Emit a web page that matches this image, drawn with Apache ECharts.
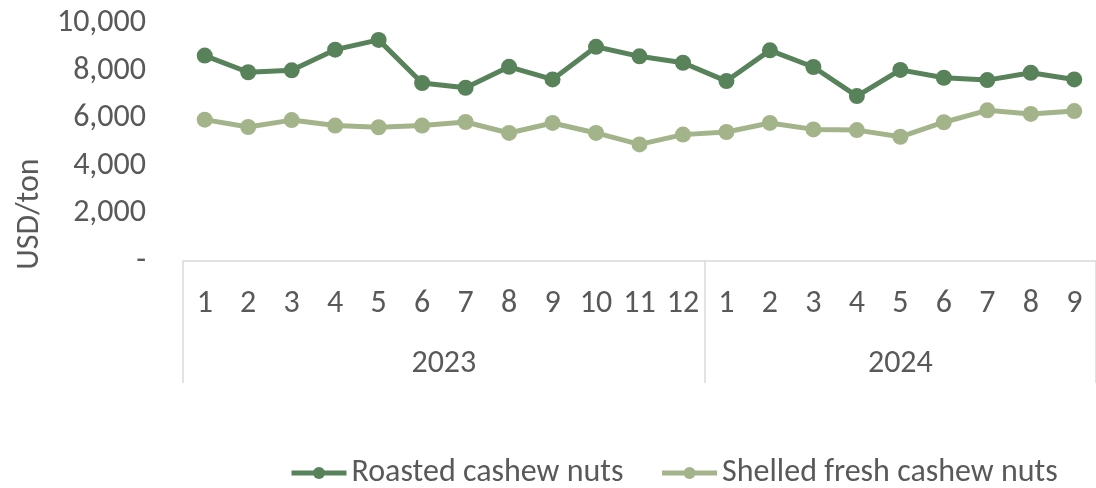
<!DOCTYPE html>
<html>
<head>
<meta charset="utf-8">
<script src="https://cdn.jsdelivr.net/npm/echarts@6/dist/echarts.min.js"></script>
<style>
html,body{margin:0;padding:0;background:#fff;}
#chart{width:1096px;height:488px;}
</style>
</head>
<body>
<div id="chart"></div>
<script>
const months = ['1','2','3','4','5','6','7','8','9','10','11','12','1','2','3','4','5','6','7','8','9'];
const years = ['2023', '2024'];
const yearStarts = [0, 12, 21];
const roasted = [8630, 7930, 8010, 8880, 9290, 7480, 7280, 8160, 7630, 9000, 8600, 8330, 7560, 8850, 8150, 6930, 8030, 7700, 7600, 7910, 7630];
const shelled = [5940, 5630, 5920, 5690, 5620, 5690, 5840, 5380, 5800, 5380, 4900, 5310, 5420, 5800, 5530, 5500, 5220, 5830, 6330, 6180, 6300];
const yTicks = [0, 2000, 4000, 6000, 8000, 10000];

const FONT = "Carlito, Calibri, 'Noto Sans', sans-serif";
const FS = 32;
const TXT = '#595959';
const yearCenters = years.map((y, i) => (yearStarts[i] + yearStarts[i + 1]) / 2);

const chart = echarts.init(document.getElementById('chart'));
chart.setOption({
  animation: false,
  textStyle: { fontFamily: FONT },
  grid: { left: 183, top: 23, width: 917, height: 238, containLabel: false },
  legend: {
    left: 289, top: 457, padding: 0,
    itemWidth: 55, itemHeight: 15, itemGap: 36,
    lineStyle: { width: 5 },
    textStyle: { fontFamily: FONT, fontSize: FS, color: TXT },
    data: ['Roasted cashew nuts', 'Shelled fresh cashew nuts']
  },
  xAxis: [
    {
      type: 'category', data: months, boundaryGap: true, position: 'bottom',
      axisLine: { show: true, lineStyle: { color: '#d9d9d9', width: 1.5 } },
      axisTick: { show: false },
      axisLabel: { interval: 0, margin: 27, fontSize: FS, color: TXT, fontFamily: FONT }
    },
    {
      type: 'value', min: 0, max: 21, position: 'bottom',
      axisLine: { show: false },
      splitLine: { show: false },
      axisTick: { show: true, customValues: yearStarts, length: 122, lineStyle: { color: '#d9d9d9', width: 1.5 } },
      axisLabel: {
        customValues: yearCenters, margin: 87, fontSize: FS, color: TXT, fontFamily: FONT,
        formatter: v => years[yearCenters.indexOf(v)]
      }
    }
  ],
  yAxis: {
    type: 'value', min: 0, max: 10000, interval: 2000,
    name: 'USD/ton', nameLocation: 'middle', nameGap: 132, nameRotate: 90,
    nameTextStyle: { fontSize: FS, color: TXT, fontFamily: FONT, padding: [0, 144, 0, 0] },
    axisLine: { show: false }, axisTick: { show: false },
    splitLine: { show: false },
    axisLabel: {
      margin: 37, fontSize: FS, color: TXT, fontFamily: FONT,
      formatter: v => v === 0 ? '-' : v.toLocaleString('en-US')
    }
  },
  series: [
    {
      name: 'Roasted cashew nuts', type: 'line', data: roasted, xAxisIndex: 0,
      symbol: 'circle', symbolSize: 16,
      lineStyle: { color: '#58825a', width: 5 },
      itemStyle: { color: '#58825a' }
    },
    {
      name: 'Shelled fresh cashew nuts', type: 'line', data: shelled, xAxisIndex: 0,
      symbol: 'circle', symbolSize: 16,
      lineStyle: { color: '#a4b48a', width: 5 },
      itemStyle: { color: '#a4b48a' }
    }
  ]
});
</script>
</body>
</html>
